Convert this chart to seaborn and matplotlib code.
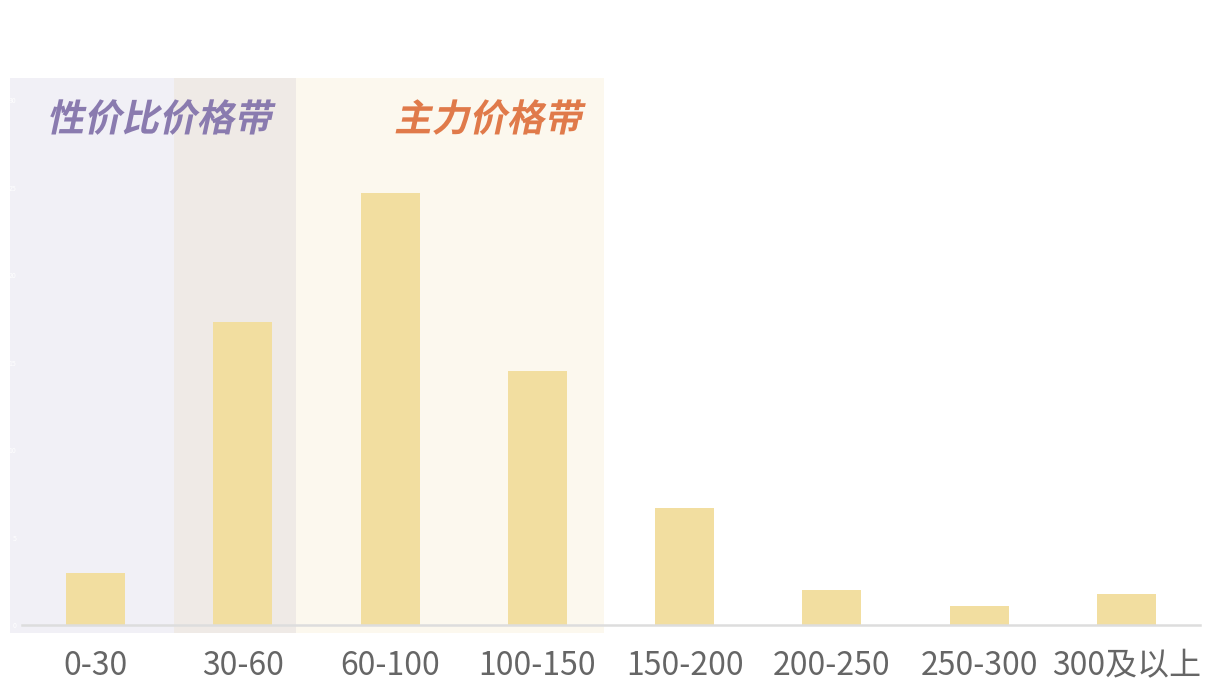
import matplotlib
matplotlib.use("Agg")
import pandas as pd
import seaborn as sns
import matplotlib.pyplot as plt
from matplotlib.patches import Rectangle
from matplotlib.patheffects import AbstractPathEffect
from matplotlib.transforms import Affine2D

# price bands and share of products (%)
price_bands = ["0-30", "30-60", "60-100", "100-150", "150-200", "200-250", "250-300", "300及以上"]
share = [3.0, 17.3, 24.7, 14.5, 6.7, 2.0, 1.1, 1.8]
y_ticks = [0, 5, 10, 15, 20, 25, 30]

df = pd.DataFrame({"band": price_bands, "share": share})


class Slant(AbstractPathEffect):
    # fake italic: shear the glyph outlines
    def __init__(self, deg=12):
        super().__init__()
        self.deg = deg

    def draw_path(self, renderer, gc, tpath, affine, rgbFace=None):
        renderer.draw_path(gc, tpath, Affine2D().skew_deg(self.deg, 0) + affine, rgbFace)


sns.set_theme(style="white")
plt.rcParams["font.family"] = ["Noto Sans CJK SC", "DejaVu Sans"]

fig = plt.figure(figsize=(12.24, 6.96), dpi=100)
ax = fig.add_axes([22 / 1224, 71 / 696, 1178 / 1224, 612 / 696])

# background bands (value-for-money / main price band)
ax.add_patch(Rectangle((-0.58, -0.46), 1.11, 31.72, color="#F1F0F6", lw=0, zorder=0, clip_on=False))
ax.add_patch(Rectangle((0.53, -0.46), 0.83, 31.72, color="#EFEAE6", lw=0, zorder=0, clip_on=False))
ax.add_patch(Rectangle((1.36, -0.46), 2.09, 31.72, color="#FCF8EE", lw=0, zorder=0, clip_on=False))

sns.barplot(data=df, x="band", y="share", color="#F2DEA0", width=0.4,
            saturation=1, linewidth=0, ax=ax, zorder=2)

ax.set_xlim(-0.5, 7.5)
ax.set_ylim(0, 35)
ax.set_xlabel("")
ax.set_ylabel("")
ax.set_yticks(y_ticks)
ax.set_yticklabels([str(v) for v in y_ticks], color="white", fontsize=5)
ax.tick_params(axis="y", length=0, pad=4)
ax.tick_params(axis="x", length=0, pad=18, labelsize=23, labelcolor="#666666")

for s in ["top", "right", "left"]:
    ax.spines[s].set_visible(False)
ax.spines["bottom"].set_color("#DDDDDD")
ax.spines["bottom"].set_linewidth(1.8)
ax.spines["bottom"].set_zorder(3)

ax.text(0.43, 28.9, "性价比价格带", ha="center", va="center", fontsize=27,
        fontweight="bold", color="#8A7BAF", zorder=4, path_effects=[Slant(12)])
ax.text(3.3, 28.9, "主力价格带", ha="right", va="center", fontsize=27,
        fontweight="bold", color="#E07A4A", zorder=4, path_effects=[Slant(12)])

fig.savefig("out.png", dpi=100, facecolor="white")
